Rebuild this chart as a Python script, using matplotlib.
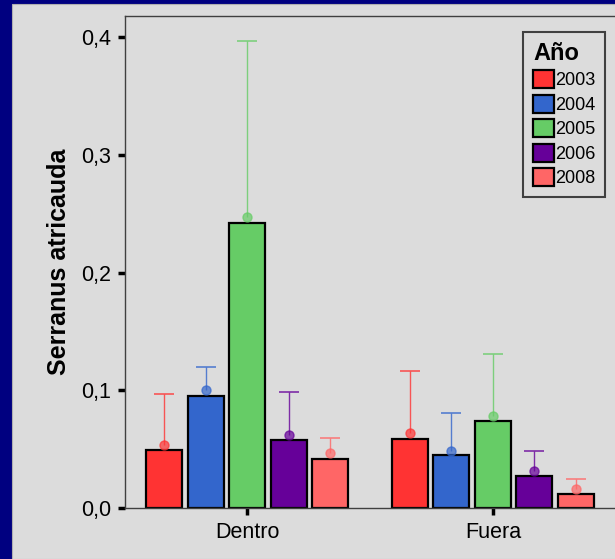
import numpy as np
import matplotlib.pyplot as plt
from matplotlib.patches import Rectangle

plt.rcParams['font.family'] = ['Liberation Sans', 'DejaVu Sans']

# datos
zonas = ['Dentro', 'Fuera']
anios = ['2003', '2004', '2005', '2006', '2008']
colores = ['#ff3333', '#3366cc', '#66cc66', '#660099', '#ff6666']

barras = {
    '2003': [0.049, 0.059],
    '2004': [0.095, 0.045],
    '2005': [0.242, 0.074],
    '2006': [0.058, 0.027],
    '2008': [0.042, 0.0115],
}
medias = {
    '2003': [0.0535, 0.064],
    '2004': [0.100, 0.0487],
    '2005': [0.247, 0.0784],
    '2006': [0.062, 0.0317],
    '2008': [0.047, 0.016],
}
err_sup = {
    '2003': [0.097, 0.116],
    '2004': [0.120, 0.081],
    '2005': [0.397, 0.1305],
    '2006': [0.0985, 0.048],
    '2008': [0.0595, 0.0244],
}
yticks = [0.0, 0.1, 0.2, 0.3, 0.4]
ytick_labels = ['0,0', '0,1', '0,2', '0,3', '0,4']

fig = plt.figure(figsize=(6.15, 5.59), dpi=100)
fig.patch.set_facecolor('#000080')
# panel gris
fig.patches.append(Rectangle((12 / 615, 0), 1, 1 - 4 / 559, transform=fig.transFigure,
                             facecolor='#dcdcdc', edgecolor='#b0b0b0', lw=0.8, zorder=-10))

ax = fig.add_axes([125 / 615, 1 - 508 / 559, 1 - 125 / 615, (508 - 16) / 559])
ax.set_facecolor('#dcdcdc')

x = np.arange(len(zonas))
paso = 41.5 / 246
ancho = 36 / 246
cap = 20 / 246
for i, a in enumerate(anios):
    pos = x + (i - 2) * paso
    ax.bar(pos, barras[a], width=ancho, color=colores[i], edgecolor='black', lw=1.6,
           label=a, zorder=2)
    # barra de error solo hacia arriba
    ax.vlines(pos, medias[a], err_sup[a], color=colores[i], lw=1, alpha=0.8, zorder=3)
    ax.hlines(err_sup[a], pos - cap / 2, pos + cap / 2, color=colores[i], lw=1.2, alpha=0.8, zorder=3)
    ax.plot(pos, medias[a], 'o', color=colores[i], ms=6.5, alpha=0.7, zorder=4)

ax.set_xlim(-0.496, 1.496)
ax.set_ylim(0, (508 - 16) / 1177.5)
ax.set_xticks(x)
ax.set_xticklabels(zonas, fontsize=15.5)
ax.set_yticks(yticks)
ax.set_yticklabels(ytick_labels, fontsize=15.5)
ax.tick_params(axis='both', direction='out', length=5, width=2.5, color='black', pad=5)
ax.set_ylabel('Serranus atricauda', fontsize=18, fontweight='bold', labelpad=7.5)

for s in ['left', 'top', 'bottom']:
    ax.spines[s].set_color('#404040')
    ax.spines[s].set_linewidth(1)
ax.spines['right'].set_visible(False)

leg = ax.legend(title='Año', loc='upper right', bbox_to_anchor=(605 / 615, 1 - 32 / 559),
                bbox_transform=fig.transFigure, borderaxespad=0, fontsize=13,
                title_fontproperties={'weight': 'bold', 'size': 17},
                handlelength=1.15, handleheight=1.15, labelspacing=0.3, handletextpad=0.05,
                borderpad=0.55, fancybox=False, framealpha=1, alignment='left')
leg.get_frame().set_facecolor('#dcdcdc')
leg.get_frame().set_edgecolor('#404040')
leg.get_frame().set_linewidth(1.5)

fig.savefig('out.png', dpi=100, facecolor=fig.get_facecolor())
